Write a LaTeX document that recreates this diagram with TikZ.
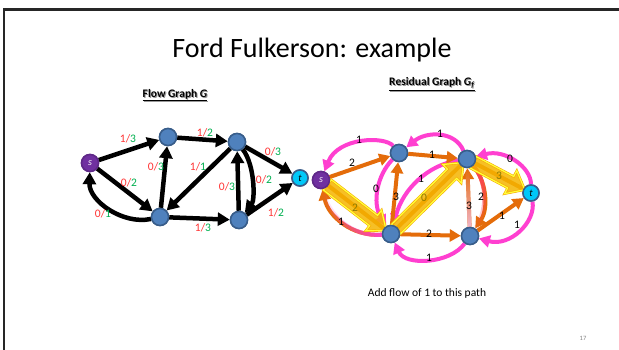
\documentclass[tikz,border=0pt]{standalone}
\usepackage{fontspec}
\setmainfont{Carlito}
\usetikzlibrary{arrows.meta,calc,fadings}

\definecolor{nodeblue}{HTML}{4F81BD}
\definecolor{nodeedge}{HTML}{385D8A}
\definecolor{spurple}{HTML}{7030A0}
\definecolor{tcyan}{HTML}{00C8F8}
\definecolor{lblred}{HTML}{FF3333}
\definecolor{lblgreen}{HTML}{00B050}
\definecolor{resorange}{HTML}{E46C0A}
\definecolor{respink}{HTML}{FF3FD0}
\definecolor{resred}{HTML}{FF3F5F}
\definecolor{reslight}{HTML}{F2B6CF}
\definecolor{pathgold}{HTML}{F5B400}
\definecolor{pathyellow}{HTML}{FFFF3C}
\definecolor{pathlabel}{HTML}{8C7A00}

\tikzfading[name=fromright, left color=transparent!100, right color=transparent!0]
\tikzfading[name=frombottom, top color=transparent!100, bottom color=transparent!0]
\tikzfading[name=fromtop, top color=transparent!0, bottom color=transparent!100]

% flow label: flow in red, capacity in green
\newcommand\flowlbl[2]{\textcolor{lblred}{#1/}\textcolor{lblgreen}{#2}}

% broad highlighted arrow between two named nodes
\newcommand\patharrow[5]{% from, to, prefix, start gap, tip gap
  \coordinate (#3-p) at ($(#1)!#4!(#2)$);
  \coordinate (#3-q) at ($(#2)!#5!(#1)$);
  \coordinate (#3-h) at ($(#3-q)!16pt!(#3-p)$);
  \draw[line width=4pt, resorange] (#3-p) -- (#3-q);
  \filldraw[pathblock]
    ($(#3-p)!6.5pt!90:(#3-q)$) -- ($(#3-h)!6.5pt!-90:(#3-p)$) --
    ($(#3-h)!13pt!-90:(#3-p)$) -- (#3-q) --
    ($(#3-h)!13pt!90:(#3-p)$) -- ($(#3-h)!6.5pt!90:(#3-p)$) --
    ($(#3-p)!6.5pt!-90:(#3-q)$) -- cycle;
}

\tikzset{
  vertex/.style={circle, fill=nodeblue, draw=nodeedge, line width=1.5pt,
    minimum size=17pt, inner sep=0pt},
  source/.style={vertex, fill=spurple, draw=spurple!85!black, text=white,
    font=\fontsize{10}{10}\selectfont\itshape},
  sink/.style={vertex, fill=tcyan, draw=nodeedge, minimum size=16pt,
    font=\fontsize{10}{10}\selectfont\itshape},
  flow/.style={line width=4.5pt, -{Triangle[length=12pt,width=13pt]}},
  fwd/.style={line width=4pt, resorange, -{Triangle[length=11pt,width=12pt]}},
  back/.style={line width=4pt, respink, -{Triangle[length=11pt,width=12pt]}},
  lbl/.style={font=\fontsize{11.5}{12}\selectfont, inner sep=0pt},
  plbl/.style={lbl, text=pathlabel},
  pathblock/.style={fill=pathgold, fill opacity=0.85, draw=pathgold!85!orange,
    double=pathyellow, double distance=1.2pt, line width=0.6pt, line join=miter},
  heading/.style={font=\fontsize{11.5}{12}\selectfont\bfseries, inner sep=0pt},
}

\begin{document}
\begin{tikzpicture}[x=1pt, y=-1pt]
\useasboundingbox (0,0) rectangle (619,350);
\fill[white] (0,0) rectangle (619,350);

% slide frame
\draw[line width=2.2pt, black!85] (4,350) -- (4,9.5) -- (619,9.5);

% title and headings
\node[font=\fontsize{28}{30}\selectfont, inner sep=0pt] (title) at (312,50) {Ford Fulkerson: example};
\node[heading, text=black!40] (flowshadow) at (176,96) {\underline{Flow Graph \textit{G}}};
\node[heading] (flowhead) at (175,95) {\underline{Flow Graph \textit{G}}};
\node[heading, text=black!40] (resshadow) at (433,85) {\underline{Residual Graph \textit{G}\textsubscript{\textit{f}}}};
\node[heading] (reshead) at (432,84) {\underline{Residual Graph \textit{G}\textsubscript{\textit{f}}}};

% ---------- flow graph ----------
\node[source] (s1) at (90,163) {s};
\node[vertex] (u1) at (168,137) {};
\node[vertex] (u2) at (237,142) {};
\node[sink]   (t1) at (300,178) {t};
\node[vertex] (l1) at (160,217) {};
\node[vertex] (l2) at (239,220) {};

\draw[flow] (s1) -- (u1);
\draw[flow] (u1) -- (u2);
\draw[flow] (u2) -- (l1);
\draw[flow] (l1) -- (u1);
\draw[flow] (s1) -- (l1);
\draw[flow] (l1) .. controls (123,225) and (89,201) .. (s1);
\draw[flow] (l1) -- (l2);
\draw[flow] (l2) -- (u2);
\draw[flow] (u2) .. controls (255,165) and (255,200) .. (l2);
\draw[flow] (u2) -- (t1);
\draw[flow] (l2) -- (t1);

\node[source] at (s1) {s};
\foreach \v in {u1,u2,l1,l2} \node[vertex] at (\v) {};
\node[sink] at (t1) {t};

\node[lbl] (f-s1u1) at (128,139) {\flowlbl{1}{3}};
\node[lbl] (f-u1u2) at (205,133) {\flowlbl{1}{2}};
\node[lbl] (f-u2l1) at (198,167) {\flowlbl{1}{1}};
\node[lbl] (f-l1u1) at (156,167) {\flowlbl{0}{3}};
\node[lbl] (f-s1l1) at (129,183) {\flowlbl{0}{2}};
\node[lbl] (f-l1s1) at (103,214) {\flowlbl{0}{1}};
\node[lbl] (f-l1l2) at (203,228) {\flowlbl{1}{3}};
\node[lbl] (f-l2u2) at (227,187) {\flowlbl{0}{3}};
\node[lbl] (f-u2l2) at (264,180) {\flowlbl{0}{2}};
\node[lbl] (f-u2t1) at (273,152) {\flowlbl{0}{3}};
\node[lbl] (f-l2t1) at (276,213) {\flowlbl{1}{2}};

% ---------- residual graph ----------
\node[source] (s2) at (321,180) {s};
\node[vertex] (a) at (399,153) {};
\node[vertex] (b) at (467,159) {};
\node[sink]   (t2) at (531,193) {t};
\node[vertex] (c) at (391,234) {};
\node[vertex] (d) at (470,236) {};

% backward residual edges
\draw[back] (a) .. controls (385,136) and (338,137) .. (s2);
\draw[back] (b) .. controls (455,131) and (427,131) .. (a);
\draw[back] (t2) .. controls (531,167) and (505,149) .. (b);
\draw[back] (t2) .. controls (536,222) and (510,247) .. (d);
\draw[back] (d) .. controls (450,264) and (405,266) .. (c);
\draw[back] (a) .. controls (377,175) and (372,203) .. (c);
\draw[back] (b) .. controls (428,165) and (403,189) .. (c);

% forward residual edges
\draw[fwd] (s2) -- (a);
\draw[fwd] (a) -- (b);
\draw[fwd] (c) -- (a);
\draw[fwd] (c) -- (d);
\draw[fwd] (d) -- (t2);
\draw[fwd] (b) .. controls (486,180) and (489,208) .. (d);
\draw[line width=4pt, resred, path fading=fromtop] (b) .. controls (486,180) and (489,208) .. (d);
\draw[fwd] (d) -- (b);
\draw[line width=4pt, reslight, path fading=frombottom] (d) -- (b);
\draw[fwd] (c) .. controls (352,237) and (328,216) .. (s2);
\draw[line width=4pt, respink, path fading=fromright] (c) .. controls (352,237) and (328,216) .. (s2);

% augmenting path
\patharrow{s2}{c}{ya}{8pt}{6pt}
\patharrow{c}{b}{yb}{7pt}{5pt}
\patharrow{b}{t2}{yc}{7pt}{7pt}

\node[source] at (s2) {s};
\foreach \v in {a,b,c,d} \node[vertex] at (\v) {};
\node[sink] at (t2) {t};

\node[lbl] (r-as2) at (359,140) {1};
\node[lbl] (r-ba) at (440,134) {1};
\node[lbl] (r-t2b) at (510,159) {0};
\node[lbl] (r-t2d) at (517,225) {1};
\node[lbl] (r-dc) at (429,258) {1};
\node[lbl] (r-ac) at (376,189) {0};
\node[lbl] (r-bc) at (421,179) {1};
\node[lbl] (r-s2a) at (352,163) {2};
\node[lbl] (r-ab) at (432,155) {1};
\node[lbl] (r-ca) at (396,197) {3};
\node[lbl] (r-cd) at (429,234) {2};
\node[lbl] (r-dt2) at (502,216) {1};
\node[lbl] (r-bd) at (481,197) {2};
\node[lbl] (r-db) at (469,206) {3};
\node[lbl] (r-cs2) at (341,222) {1};
\node[plbl] (p-s2c) at (355,208) {2};
\node[plbl] (p-cb) at (424,198) {0};
\node[plbl] (p-bt2) at (499,176) {3};

\node[font=\fontsize{11.5}{12}\selectfont, inner sep=0pt] (note) at (427,293) {Add flow of 1 to this path};
\node[font=\fontsize{6.5}{7}\selectfont, text=black!50, inner sep=0pt] (pageno) at (583,338) {17};
\end{tikzpicture}
\end{document}
